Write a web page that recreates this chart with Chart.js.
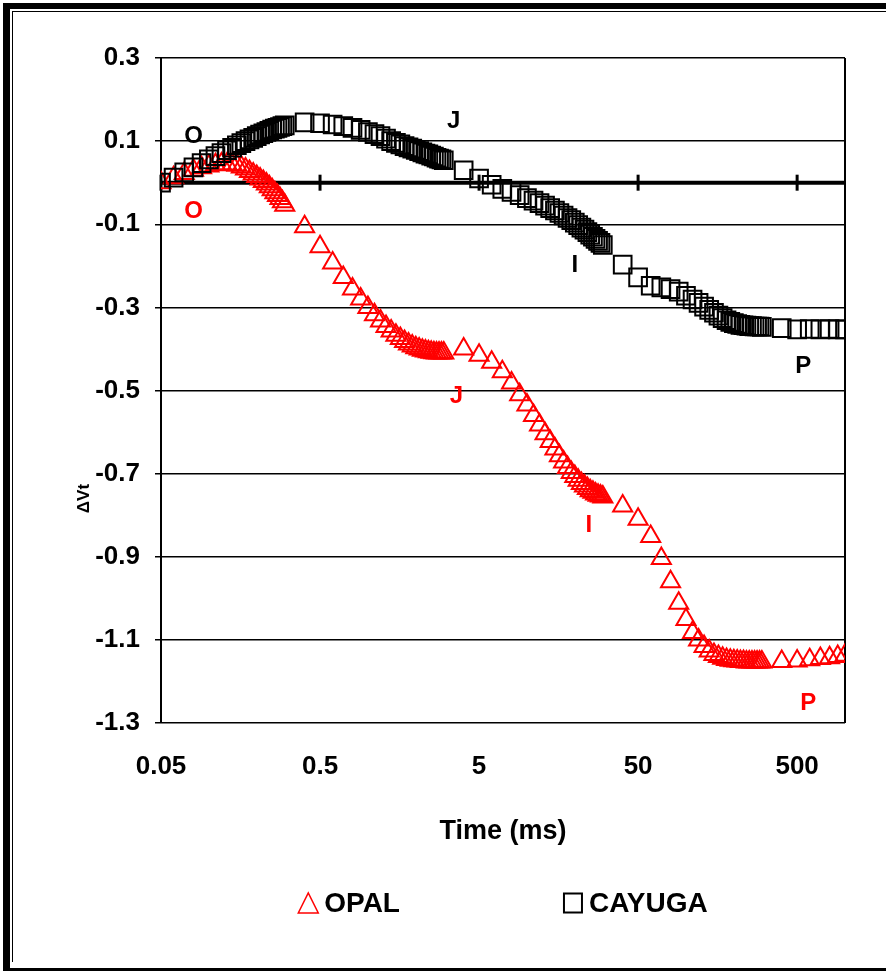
<!DOCTYPE html>
<html>
<head>
<meta charset="utf-8">
<script src="https://cdn.jsdelivr.net/npm/chart.js@4.4.1/dist/chart.umd.min.js"></script>
<style>
  html, body { margin: 0; padding: 0; background: #fff; overflow: hidden; }
  .wrap { position: relative; width: 886px; height: 971px; }
  .frame-out { position: absolute; left: 3px; top: 3px; width: 1000px; height: 959px;
    border-left: 7px solid #000; border-top: 6px solid #000; border-bottom: 3px solid #000; }
  .frame-in { position: absolute; left: 12px; top: 11px; width: 1000px; height: 950px;
    border-left: 1.5px solid #000; border-top: 1.5px solid #000; }
  #chart { position: absolute; left: 0; top: 0; }
</style>
</head>
<body>
<div class="wrap">
  <div class="frame-out"></div>
  <div class="frame-in"></div>
  <canvas id="chart" width="886" height="971"></canvas>
</div>
<script>
// time points (ms)
const timeMs = [
  0.05, 0.06, 0.07, 0.08, 0.09, 0.10, 0.11, 0.12, 0.13, 0.14, 0.15, 0.16, 0.17,
  0.18, 0.19, 0.20, 0.21, 0.22, 0.23, 0.24, 0.25, 0.26, 0.27, 0.28, 0.29, 0.30,
  0.4, 0.5, 0.6, 0.7, 0.8, 0.9, 1.0, 1.1, 1.2, 1.3, 1.4, 1.5, 1.6, 1.7, 1.8, 1.9,
  2.0, 2.1, 2.2, 2.3, 2.4, 2.5, 2.6, 2.7, 2.8, 2.9, 3.0,
  4, 5, 6, 7, 8, 9, 10, 11, 12, 13, 14, 15, 16, 17, 18, 19, 20, 21, 22, 23, 24,
  25, 26, 27, 28, 29, 30,
  40, 50, 60, 70, 80, 90, 100, 110, 120, 130, 140, 150, 160, 170, 180, 190, 200,
  210, 220, 230, 240, 250, 260, 270, 280, 290, 300,
  400, 500, 600, 700, 800, 900, 1000
];

const opal = [
  0.0, 0.012, 0.022, 0.03, 0.036, 0.04, 0.043, 0.045, 0.045, 0.044, 0.042, 0.038, 0.033,
  0.027, 0.021, 0.015, 0.009, 0.003, -0.003, -0.01, -0.017, -0.024, -0.031, -0.038, -0.046, -0.054,
  -0.106, -0.154, -0.193, -0.228, -0.256, -0.28, -0.3, -0.318, -0.333, -0.346, -0.357, -0.367, -0.375,
  -0.382, -0.388, -0.393, -0.397, -0.4, -0.403, -0.405, -0.407, -0.408, -0.409, -0.41, -0.41, -0.41, -0.41,
  -0.4, -0.415, -0.432, -0.455, -0.482, -0.51, -0.535, -0.56, -0.583, -0.604, -0.623, -0.641, -0.657,
  -0.672, -0.685, -0.697, -0.707, -0.716, -0.724, -0.73, -0.736, -0.741, -0.745, -0.749, -0.752, -0.754, -0.756,
  -0.778, -0.81, -0.851, -0.904, -0.96, -1.012, -1.051, -1.082, -1.1, -1.116, -1.127, -1.135, -1.14,
  -1.144, -1.147, -1.149, -1.15, -1.151, -1.152, -1.152, -1.153, -1.153, -1.153, -1.153, -1.153, -1.153, -1.153,
  -1.152, -1.151, -1.148, -1.145, -1.143, -1.14, -1.137
];

const cayuga = [
  0.0, 0.012, 0.025, 0.037, 0.047, 0.056, 0.064, 0.071, 0.078, 0.084, 0.09, 0.095, 0.1,
  0.104, 0.108, 0.112, 0.116, 0.119, 0.122, 0.125, 0.128, 0.13, 0.132, 0.134, 0.136, 0.138,
  0.145, 0.143, 0.14, 0.136, 0.132, 0.127, 0.122, 0.117, 0.112, 0.106, 0.1, 0.096, 0.092,
  0.088, 0.085, 0.082, 0.079, 0.076, 0.073, 0.07, 0.068, 0.065, 0.063, 0.06, 0.058, 0.056, 0.054,
  0.03, 0.01, -0.005, -0.015, -0.022, -0.03, -0.037, -0.043, -0.049, -0.055, -0.061, -0.067, -0.073,
  -0.079, -0.085, -0.09, -0.096, -0.102, -0.108, -0.113, -0.119, -0.125, -0.13, -0.135, -0.14, -0.145, -0.15,
  -0.197, -0.228, -0.248, -0.252, -0.256, -0.262, -0.272, -0.281, -0.289, -0.298, -0.306, -0.313, -0.32,
  -0.326, -0.331, -0.335, -0.338, -0.34, -0.342, -0.343, -0.344, -0.345, -0.345, -0.346, -0.346, -0.346, -0.347,
  -0.35, -0.353, -0.352, -0.353, -0.352, -0.353, -0.353
];

const xTicks = [0.05, 0.5, 5, 50, 500];
const yTicks = [-1.3, -1.1, -0.9, -0.7, -0.5, -0.3, -0.1, 0.1, 0.3];

// O J I P markers on each curve (x in ms, y in value units)
const phaseNames = ["O", "J", "I", "P"];
const cayugaPhaseX = [0.08, 3.46, 20, 547];
const cayugaPhaseY = [0.111, 0.147, -0.2, -0.443];
const opalPhaseX = [0.08, 3.6, 24.5, 588];
const opalPhaseY = [-0.07, -0.513, -0.824, -1.253];

const seriesNames = ["OPAL", "CAYUGA"];
const FONT = '"Liberation Sans", Arial, sans-serif';

function toPoints(ys) {
  return timeMs.map((t, i) => ({ x: t, y: ys[i] }));
}

// zero line, right border, phase letters, y title and legend
const extras = {
  id: "extras",
  beforeDatasetsDraw(chart) {
    const { ctx, chartArea: a, scales: { x, y } } = chart;
    ctx.save();
    ctx.strokeStyle = "#000";
    ctx.lineWidth = 2;
    ctx.beginPath();
    ctx.moveTo(a.right, a.top);
    ctx.lineTo(a.right, a.bottom);
    ctx.stroke();

    const y0 = y.getPixelForValue(0);
    ctx.lineWidth = 4;
    ctx.beginPath();
    ctx.moveTo(a.left, y0);
    ctx.lineTo(a.right, y0);
    ctx.stroke();
    ctx.lineWidth = 3;
    xTicks.forEach(function (v) {
      const px = x.getPixelForValue(v);
      ctx.beginPath();
      ctx.moveTo(px, y0 - 8);
      ctx.lineTo(px, y0 + 8);
      ctx.stroke();
    });
    ctx.restore();
  },
  afterDraw(chart) {
    const { ctx, chartArea: a, scales: { x, y } } = chart;
    ctx.save();
    ctx.font = "bold 24px " + FONT;
    ctx.textAlign = "center";
    ctx.textBaseline = "middle";
    phaseNames.forEach(function (n, i) {
      ctx.fillStyle = "#000";
      ctx.fillText(n, x.getPixelForValue(cayugaPhaseX[i]), y.getPixelForValue(cayugaPhaseY[i]));
      ctx.fillStyle = "#ff0000";
      ctx.fillText(n, x.getPixelForValue(opalPhaseX[i]), y.getPixelForValue(opalPhaseY[i]));
    });

    // y axis title (small, sits low on the axis)
    ctx.fillStyle = "#000";
    ctx.font = "900 17px " + FONT;
    ctx.translate(84, y.getPixelForValue(-0.76));
    ctx.rotate(-Math.PI / 2);
    ctx.fillText("ΔVt", 0, 0);
    ctx.setTransform(1, 0, 0, 1, 0, 0);

    // legend
    ctx.font = "bold 28px " + FONT;
    ctx.textAlign = "left";
    const ly = x.bottom + 40;
    const box = 20, gapText = 6, gapItem = 163;
    const w0 = box + gapText + ctx.measureText(seriesNames[0]).width;
    const w1 = box + gapText + ctx.measureText(seriesNames[1]).width;
    let lx = (a.left + a.right) / 2 - (w0 + gapItem + w1) / 2;

    ctx.strokeStyle = "#ff0000";
    ctx.lineWidth = 1.5;
    ctx.beginPath();
    ctx.moveTo(lx, ly + 10);
    ctx.lineTo(lx + 10, ly - 10);
    ctx.lineTo(lx + 20, ly + 10);
    ctx.closePath();
    ctx.stroke();
    ctx.fillStyle = "#000";
    ctx.fillText(seriesNames[0], lx + box + gapText, ly + 1);

    lx += w0 + gapItem;
    ctx.strokeStyle = "#000";
    ctx.lineWidth = 2;
    ctx.strokeRect(lx + 1, ly - 9.5, 18, 19);
    ctx.fillText(seriesNames[1], lx + box + gapText, ly + 1);
    ctx.restore();
  }
};

const ctx = document.getElementById("chart");
new Chart(ctx, {
  type: "scatter",
  data: {
    datasets: [
      {
        label: seriesNames[1],
        data: toPoints(cayuga),
        pointStyle: "rect",
        pointRadius: 12.5,
        borderColor: "#000",
        backgroundColor: "rgba(0,0,0,0)",
        borderWidth: 2,
        showLine: false
      },
      {
        label: seriesNames[0],
        data: toPoints(opal),
        pointStyle: "triangle",
        pointRadius: 11,
        borderColor: "#ff0000",
        backgroundColor: "rgba(0,0,0,0)",
        borderWidth: 2,
        showLine: false
      }
    ]
  },
  options: {
    responsive: false,
    animation: false,
    layout: { padding: { left: 20, right: 41, top: 58, bottom: 108 } },
    plugins: {
      legend: { display: false },
      tooltip: { enabled: false }
    },
    scales: {
      x: {
        type: "logarithmic",
        min: 0.05,
        max: 1000,
        afterBuildTicks: function (s) {
          s.ticks = xTicks.map(function (v) { return { value: v }; });
        },
        afterFit: function (s) { s.height = 140; },
        grid: { display: false, drawTicks: false },
        border: { display: false },
        ticks: {
          autoSkip: false,
          maxRotation: 0,
          padding: 28,
          color: "#000",
          font: { family: FONT, size: 26, weight: "bold" },
          callback: function (v) { return String(v); }
        },
        title: {
          display: true,
          text: "Time (ms)",
          color: "#000",
          font: { family: FONT, size: 27, weight: "bold" },
          padding: { top: 0, bottom: 15 }
        }
      },
      y: {
        min: -1.3,
        max: 0.3,
        afterBuildTicks: function (s) {
          s.ticks = yTicks.map(function (v) { return { value: v }; });
        },
        afterFit: function (s) { s.width = 141; },
        grid: { color: "#000", lineWidth: 1.5, tickLength: 6, drawTicks: true },
        border: { color: "#000", width: 2 },
        ticks: {
          padding: 15,
          color: "#000",
          font: { family: FONT, size: 26, weight: "bold" },
          callback: function (v) { return v.toFixed(1); }
        }
      }
    }
  },
  plugins: [extras]
});
</script>
</body>
</html>
